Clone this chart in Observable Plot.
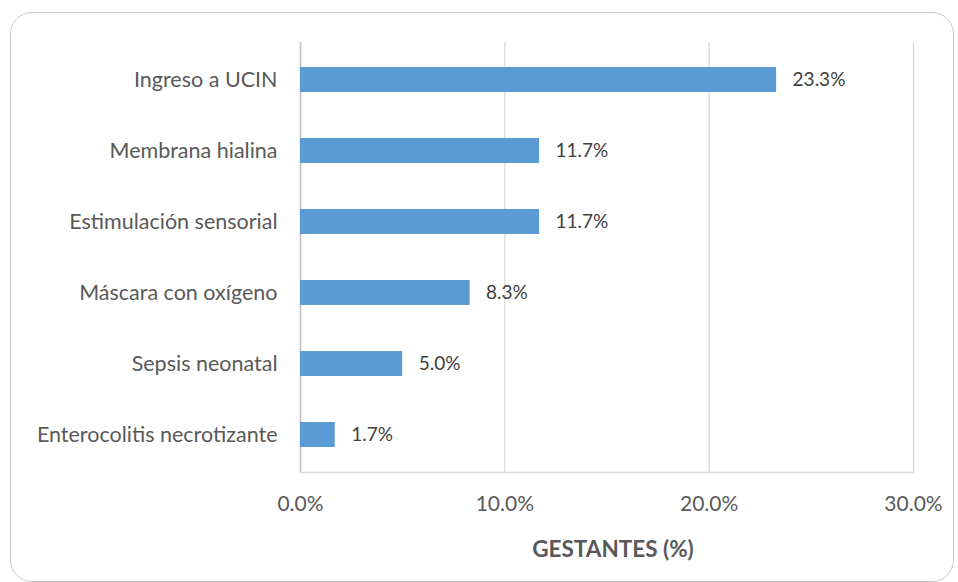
<!DOCTYPE html>
<html>
<head>
<meta charset="utf-8">
<script src="https://cdn.jsdelivr.net/npm/d3@7"></script>
<script src="https://cdn.jsdelivr.net/npm/@observablehq/plot@0.6"></script>
<style>
  html, body { margin: 0; padding: 0; background: #fff; }
  #wrap { position: relative; width: 958px; height: 582px; overflow: hidden; }
  #border { position: absolute; left: 10px; top: 12px; width: 944px; height: 570px;
            box-sizing: border-box; border: 1.3px solid #c8c8c8; border-radius: 22px; pointer-events: none; }
  #chart { position: absolute; left: 0; top: 0; }
</style>
</head>
<body>
<div id="wrap"><div id="chart"></div><div id="border"></div></div>
<script>
const categories = ["Ingreso a UCIN", "Membrana hialina", "Estimulación sensorial", "Máscara con oxígeno", "Sepsis neonatal", "Enterocolitis necrotizante"];
const values = [23.3, 11.7, 11.7, 8.3, 5.0, 1.7];
const xTicks = [0, 10, 20, 30];
const axisTitle = "GESTANTES (%)";

const data = categories.map((c, i) => ({category: c, value: values[i]}));
const font = "Lato, sans-serif";
const pct = d => d.toFixed(1) + "%";

const chart = Plot.plot({
  width: 958,
  height: 582,
  marginLeft: 300,
  marginRight: 45,
  marginTop: 42,
  marginBottom: 110,
  style: {fontFamily: font, fontSize: "20px", background: "transparent"},
  x: {domain: [0, 30]},
  y: {domain: categories, paddingInner: 0.65, paddingOuter: 0.325},
  marks: [
    Plot.gridX(xTicks, {stroke: "#d9d9d9", strokeOpacity: 1, strokeWidth: 1.3}),
    Plot.frame({anchor: "bottom", stroke: "#d9d9d9", strokeWidth: 1.3}),
    Plot.ruleX([0], {stroke: "#c0c0c0", strokeWidth: 1.5}),
    Plot.barX(data, {x: "value", y: "category", fill: "#5B9BD5"}),
    Plot.text(data, {x: "value", y: "category", text: d => pct(d.value), dx: 16, textAnchor: "start", fill: "#404040", fontSize: 19}),
    Plot.axisY({tickSize: 0, tickPadding: 23, fontSize: 21.5, color: "#595959", label: null}),
    Plot.axisX({ticks: xTicks, tickFormat: pct, tickSize: 0, tickPadding: 24, fontSize: 21, color: "#595959", label: null}),
    Plot.text([axisTitle], {frameAnchor: "bottom", dx: 6, dy: 84, text: d => d, fontWeight: "bold", fontSize: 22.5, fill: "#595959"})
  ]
});
document.getElementById("chart").appendChild(chart);
</script>
</body>
</html>
